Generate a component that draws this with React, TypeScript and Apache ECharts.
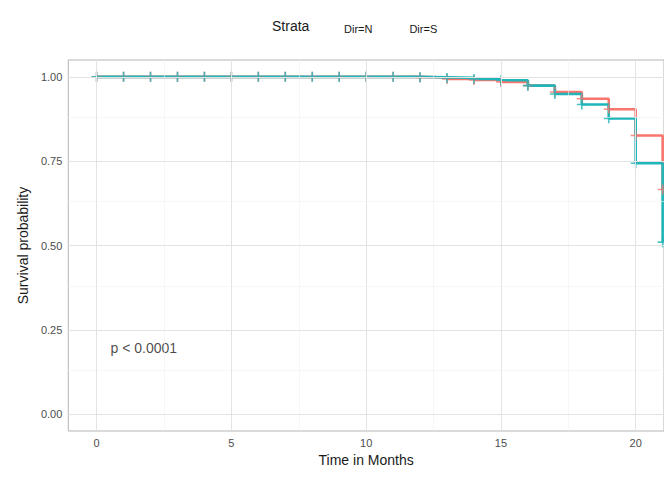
import { useEffect, useRef } from 'react'
import * as echarts from 'echarts'

const months = [0, 1, 2, 3, 4, 5, 6, 7, 8, 9, 10, 11, 12, 13, 14, 15, 16, 17, 18, 19, 20, 21]
const survN = [1, 1, 1, 1, 1, 1, 1, 1, 1, 1, 1, 1, 0.998, 0.994, 0.991, 0.985, 0.974, 0.955, 0.935, 0.904, 0.826, 0.666]
const survS = [1, 1, 1, 1, 1, 1, 1, 1, 1, 1, 1, 1, 0.999, 0.997, 0.994, 0.99, 0.974, 0.949, 0.918, 0.877, 0.744, 0.51]
const xTicks = [0, 5, 10, 15, 20]
const xMinor = [2.5, 7.5, 12.5, 17.5]
const yTicks = [0, 0.25, 0.5, 0.75, 1]
const yMinor = [0.125, 0.375, 0.625, 0.875]

const RED = '#F8766D'
const TEAL = '#1FB5B9'
const PLUS = 'path://M0,-5L0,5M-5,0L5,0'
const LEGEND_ICON = 'path://M0,5L20,5M10,0L10,10'

function pairs(ys: number[]) {
  return months.map((m, i) => [m, ys[i]])
}

function curve(name: string, ys: number[], color: string) {
  return [
    {
      name,
      type: 'line',
      step: 'end',
      data: pairs(ys),
      showSymbol: false,
      color,
      lineStyle: { color, width: 2.6 },
      itemStyle: { color },
      emphasis: { disabled: true },
      z: 3
    },
    {
      name,
      type: 'scatter',
      data: pairs(ys),
      symbol: PLUS,
      symbolSize: 10,
      color,
      itemStyle: { color, borderColor: color, borderWidth: 1.6 },
      emphasis: { disabled: true },
      z: 4
    }
  ]
}

export default function App() {
  const ref = useRef<HTMLDivElement>(null)

  useEffect(() => {
    if (!ref.current) return
    const chart = echarts.init(ref.current, null, { renderer: 'svg' })
    const major = { color: '#e3e3e3', width: 1, type: 'solid' }
    const minor = { color: '#f0f0f0', width: 0.6, type: 'solid' }
    const gridLines = [
      ...xTicks.map(v => ({ xAxis: v, lineStyle: major })),
      ...xMinor.map(v => ({ xAxis: v, lineStyle: minor })),
      ...yTicks.map(v => ({ yAxis: v, lineStyle: major })),
      ...yMinor.map(v => ({ yAxis: v, lineStyle: minor }))
    ]
    chart.setOption({
      animation: false,
      color: [RED, TEAL],
      textStyle: { fontFamily: 'Liberation Sans, Arial, sans-serif' },
      grid: { left: 44, right: 0, top: 52, bottom: 34, show: true, borderColor: '#b5b5b5', borderWidth: 1 },
      legend: {
        top: 10,
        left: 306,
        itemWidth: 20,
        itemHeight: 10,
        itemGap: 12,
        textStyle: { fontSize: 11, color: '#1a1a1a' },
        data: [
          { name: 'Dir=N', icon: LEGEND_ICON },
          { name: 'Dir=S', icon: LEGEND_ICON }
        ]
      },
      graphic: [
        { type: 'text', left: 264, top: 11, style: { text: 'Strata', fontSize: 14, fill: '#1a1a1a', fontFamily: 'Liberation Sans, Arial, sans-serif' } }
      ],
      xAxis: {
        type: 'value',
        min: -1.05,
        max: 21.05,
        name: 'Time in Months',
        nameLocation: 'middle',
        nameGap: 22,
        nameTextStyle: { fontSize: 14, color: '#1a1a1a' },
        axisLine: { show: false },
        splitLine: { show: false },
        axisTick: { show: true, customValues: xTicks, length: 4, lineStyle: { color: '#333' } },
        axisLabel: { customValues: xTicks, fontSize: 11, color: '#4d4d4d', margin: 6 }
      },
      yAxis: {
        type: 'value',
        min: -0.05,
        max: 1.05,
        name: 'Survival probability',
        nameLocation: 'middle',
        nameGap: 36,
        nameTextStyle: { fontSize: 14, color: '#1a1a1a' },
        axisLine: { show: false },
        splitLine: { show: false },
        axisTick: { show: true, customValues: yTicks, length: 4, lineStyle: { color: '#333' } },
        axisLabel: {
          customValues: yTicks,
          fontSize: 11,
          color: '#4d4d4d',
          margin: 6,
          formatter: (v: number) => v.toFixed(2)
        }
      },
      series: [
        {
          name: 'grid',
          type: 'scatter',
          data: [],
          silent: true,
          markLine: { symbol: 'none', silent: true, label: { show: false }, data: gridLines },
          z: 1
        },
        {
          name: 'pval',
          type: 'scatter',
          data: [[1.75, 0.197]],
          symbolSize: 0,
          silent: true,
          label: { show: true, formatter: 'p < 0.0001', position: 'inside', fontSize: 14, color: '#1a1a1a' }
        },
        ...curve('Dir=N', survN, RED),
        ...curve('Dir=S', survS, TEAL)
      ]
    })
    return () => chart.dispose()
  }, [])

  return <div ref={ref} style={{ width: 656, height: 464 }} />
}
